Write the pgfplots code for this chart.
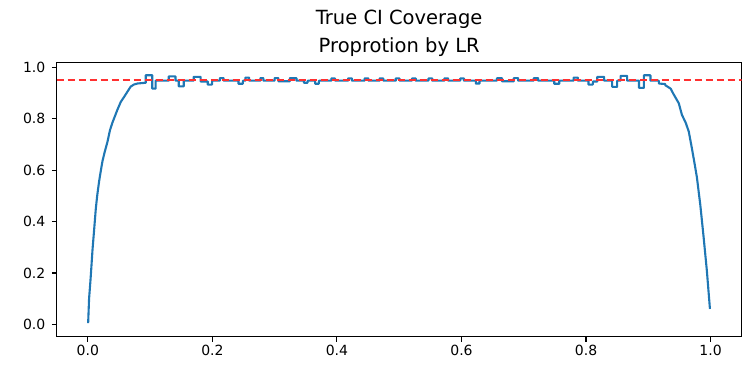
\documentclass[border=0pt]{standalone}
\usepackage{pgfplots}
\pgfplotsset{compat=1.18}
\usepackage{fontspec}
\setmainfont{DejaVu Sans}
\definecolor{mplblue}{HTML}{1F77B4}
\definecolor{mplred}{HTML}{FF3030}
\begin{document}
\begin{tikzpicture}
\begin{axis}[
  name=ax,
  scale only axis,
  width=685pt, height=274pt,
  xmin=-0.05, xmax=1.05,
  ymin=-0.048, ymax=1.018,
  xtick={0,0.2,0.4,0.6,0.8,1.0},
  ytick={0,0.2,0.4,0.6,0.8,1.0},
  /pgf/number format/assume math mode=true,
  /pgf/number format/.cd, fixed, fixed zerofill, precision=1, /pgfplots/.cd,
  tick align=outside,
  tick pos=left,
  major tick length=4.9pt,
  every tick/.style={black, line width=1.1pt},
  axis line style={black, line width=1.1pt},
  tick label style={font=\fontsize{14}{16}\selectfont},
  yticklabel style={xshift=-3pt},
  title={True CI Coverage\\ Proprotion by LR},
  title style={align=center, font=\fontsize{19.5}{28}\selectfont, yshift=-3pt},
  clip=true,
]
\addplot[mplblue, line width=2.1pt, line join=round] coordinates {
(0.0005,0.005)(0.002,0.10)(0.0045,0.18)(0.0075,0.29)(0.0105,0.38)(0.0128,0.45)
(0.015,0.50)(0.018,0.555)(0.021,0.60)(0.0235,0.635)(0.027,0.67)(0.0315,0.71)
(0.0355,0.755)(0.0395,0.785)(0.0435,0.81)(0.0475,0.835)(0.0528,0.865)(0.058,0.884)
(0.0635,0.905)(0.0688,0.925)(0.074,0.933)(0.0795,0.937)(0.093,0.940)
(0.093,0.969)(0.1035,0.969)
(0.1035,0.917)(0.1088,0.917)
(0.1088,0.948)(0.130,0.948)
(0.130,0.965)(0.1408,0.965)
(0.1408,0.948)(0.146,0.948)
(0.146,0.926)(0.154,0.926)
(0.154,0.948)(0.170,0.948)
(0.170,0.963)(0.181,0.963)
(0.181,0.945)(0.1925,0.945)
(0.1925,0.933)(0.1995,0.933)
(0.1995,0.948)(0.212,0.948)
(0.212,0.958)(0.218,0.958)
(0.218,0.948)(0.242,0.948)
(0.242,0.936)(0.249,0.936)
(0.249,0.948)(0.253,0.948)
(0.253,0.960)(0.259,0.960)
(0.259,0.948)(0.277,0.948)
(0.277,0.958)(0.282,0.958)
(0.282,0.948)(0.300,0.948)
(0.300,0.958)(0.306,0.958)
(0.306,0.946)(0.3245,0.946)
(0.3245,0.958)(0.335,0.958)
(0.335,0.948)(0.347,0.948)
(0.347,0.940)(0.353,0.940)
(0.353,0.948)(0.365,0.948)
(0.365,0.936)(0.371,0.936)
(0.371,0.948)(0.391,0.948)
(0.391,0.957)(0.397,0.957)
(0.397,0.948)(0.418,0.948)
(0.418,0.957)(0.424,0.957)
(0.424,0.948)(0.4445,0.948)
(0.4445,0.957)(0.4505,0.957)
(0.4505,0.948)(0.4685,0.948)
(0.4685,0.957)(0.4745,0.957)
(0.4745,0.948)(0.4945,0.948)
(0.4945,0.957)(0.5005,0.957)
(0.5005,0.948)(0.5205,0.948)
(0.5205,0.957)(0.5265,0.957)
(0.5265,0.948)(0.547,0.948)
(0.547,0.957)(0.553,0.957)
(0.553,0.948)(0.5725,0.948)
(0.5725,0.957)(0.5785,0.957)
(0.5785,0.948)(0.598,0.948)
(0.598,0.957)(0.604,0.957)
(0.604,0.948)(0.623,0.948)
(0.623,0.937)(0.629,0.937)
(0.629,0.948)(0.657,0.948)
(0.657,0.958)(0.665,0.958)
(0.665,0.946)(0.684,0.946)
(0.684,0.958)(0.691,0.958)
(0.691,0.948)(0.716,0.948)
(0.716,0.958)(0.723,0.958)
(0.723,0.948)(0.749,0.948)
(0.749,0.936)(0.757,0.936)
(0.757,0.948)(0.780,0.948)
(0.780,0.960)(0.787,0.960)
(0.787,0.948)(0.804,0.948)
(0.804,0.933)(0.811,0.933)
(0.811,0.945)(0.818,0.945)
(0.818,0.963)(0.829,0.963)
(0.829,0.948)(0.842,0.948)
(0.842,0.924)(0.850,0.924)
(0.850,0.948)(0.8555,0.948)
(0.8555,0.967)(0.866,0.967)
(0.866,0.948)(0.885,0.948)
(0.885,0.920)(0.893,0.920)
(0.893,0.969)(0.9035,0.969)
(0.9035,0.948)(0.917,0.948)
(0.917,0.937)(0.927,0.935)(0.9275,0.93)(0.936,0.917)(0.940,0.898)(0.949,0.860)
(0.954,0.815)(0.960,0.785)(0.965,0.750)(0.970,0.685)(0.974,0.63)(0.978,0.573)
(0.9835,0.465)(0.9888,0.340)(0.994,0.210)(0.999,0.060)
};
\addplot[mplred, line width=2.1pt, dash pattern=on 7.7pt off 3.3pt] coordinates {(-0.05,0.95)(1.05,0.95)};
\end{axis}
\path ([shift={(-56.7pt,-39.3pt)}]ax.south west) rectangle ++(746pt,376pt);
\end{tikzpicture}
\end{document}
